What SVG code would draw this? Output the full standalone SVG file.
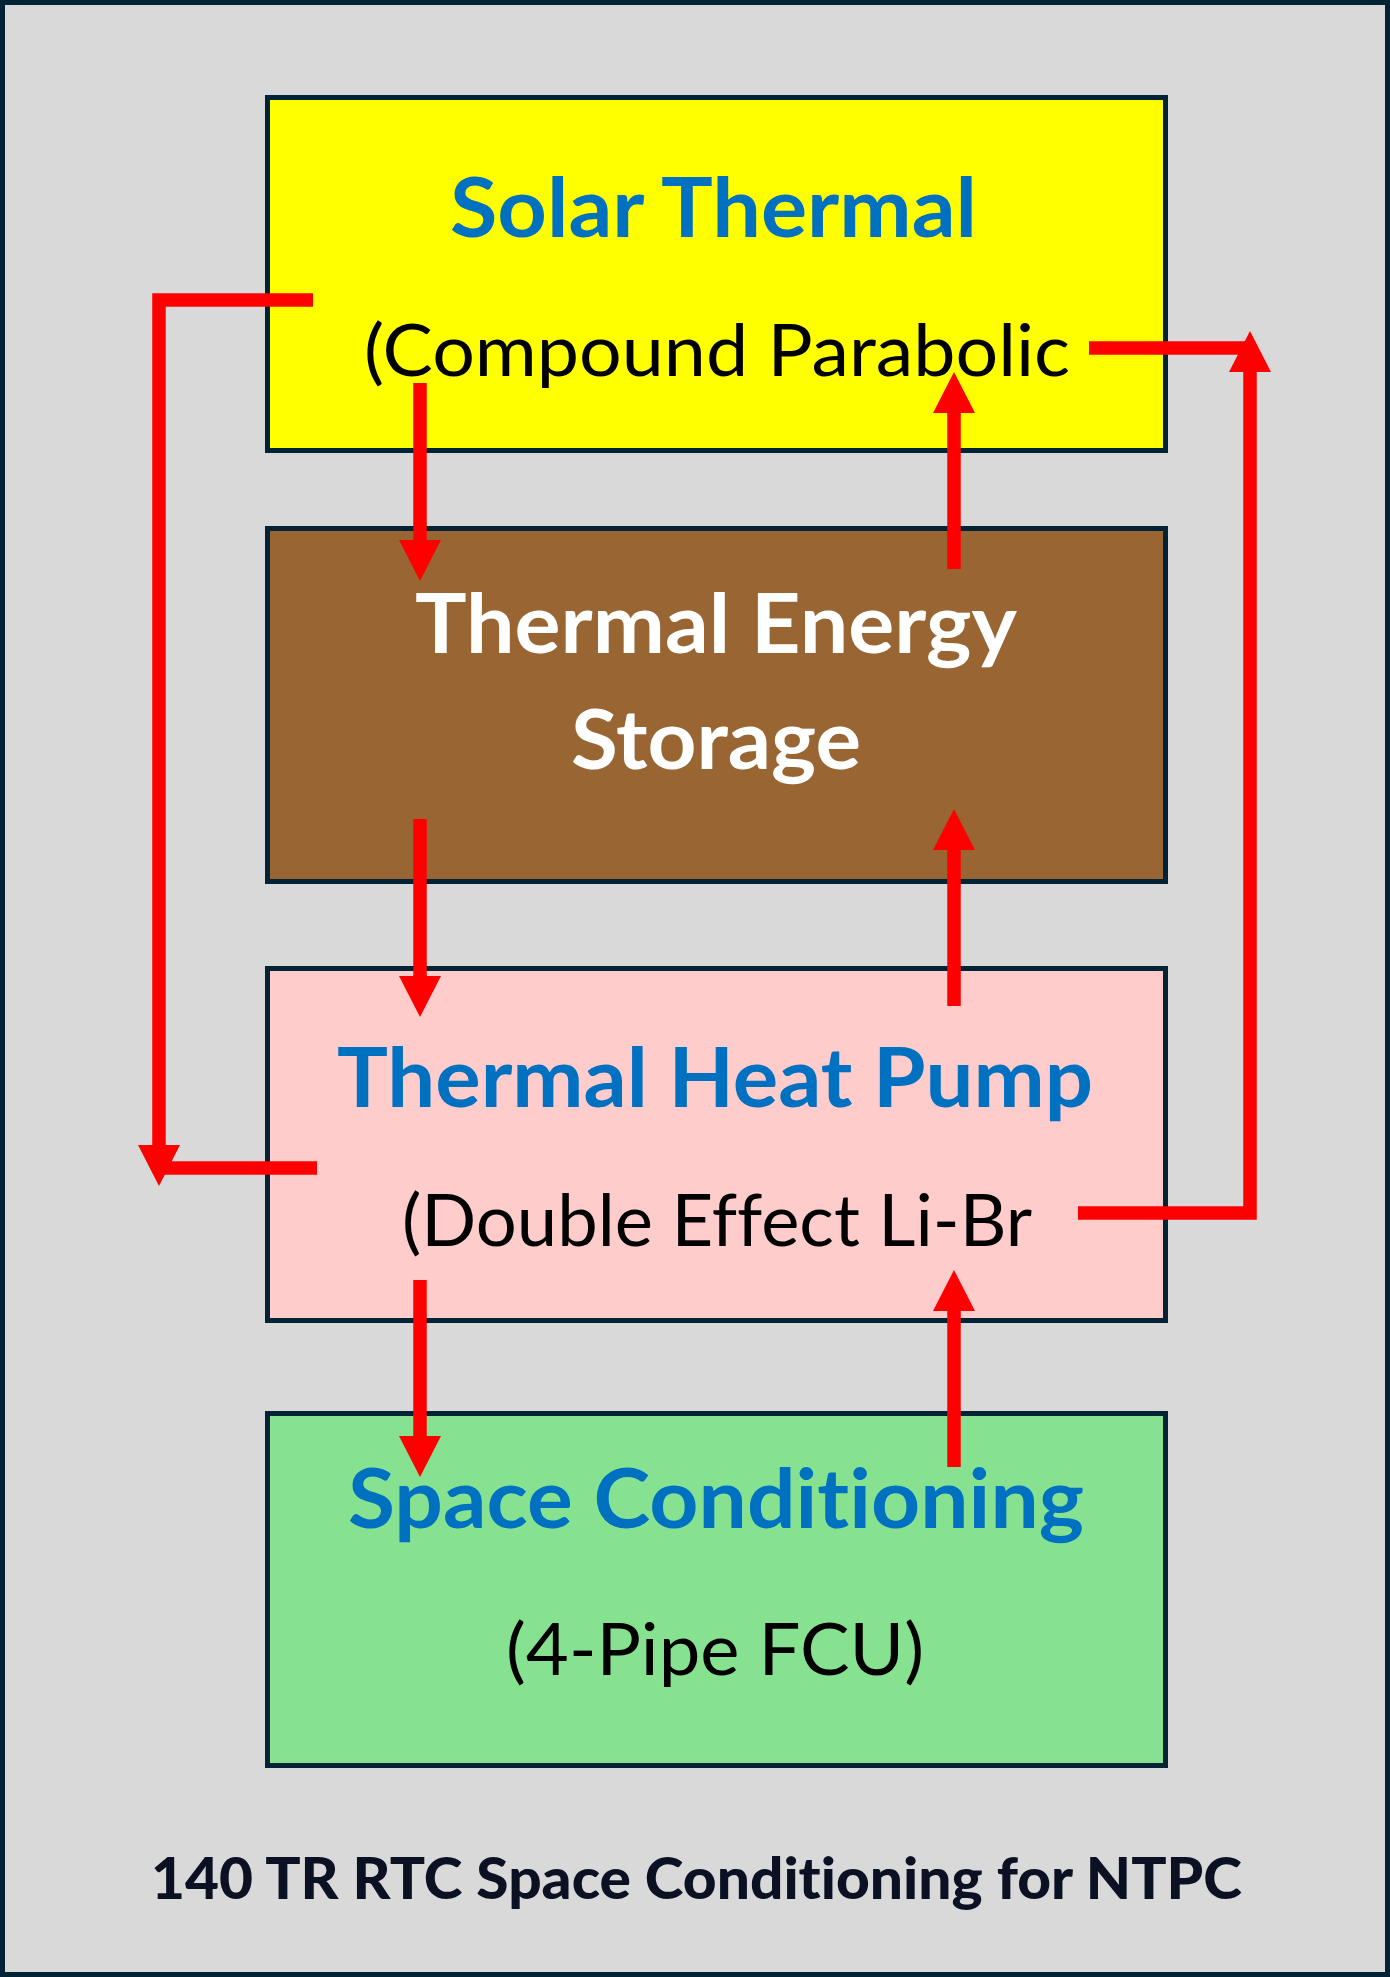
<svg xmlns="http://www.w3.org/2000/svg" width="1390" height="1977" viewBox="0 0 1390 1977">
  <style>
    text { font-variant-ligatures: none; font-feature-settings: "liga" 0, "clig" 0; }
    .box { stroke: #022235; stroke-width: 5; }
    .title { font-family: Lato, "Liberation Sans", sans-serif; font-weight: 700; font-size: 82px; fill: #0070C0; }
    .sub { font-family: Lato, "Liberation Sans", sans-serif; font-weight: 400; font-size: 72px; fill: #000000; }
    .white { fill: #FFFFFF; }
    .foot { font-family: Lato, "Liberation Sans", sans-serif; font-weight: 900; font-size: 58px; fill: #0B1122; }
    .conn { fill: none; stroke: #FF0000; stroke-width: 13.5; stroke-linejoin: miter; stroke-linecap: butt; }
  </style>
  <defs>
    <marker id="ah" markerUnits="userSpaceOnUse" markerWidth="41" markerHeight="42" viewBox="0 -21 41 42" refX="0" refY="0" orient="auto">
      <path d="M0,-21 L41,0 L0,21 Z" fill="#FF0000"/>
    </marker>
  </defs>
  <rect id="frame" x="2.5" y="2.5" width="1385" height="1972" fill="#D9D9D9" stroke="#022235" stroke-width="5"/>

  <g id="solar-thermal">
    <rect class="box" x="267.5" y="97.5" width="898" height="353" fill="#FFFF00"/>
    <text class="title" x="450" y="237" textLength="527" lengthAdjust="spacingAndGlyphs">Solar Thermal</text>
    <text class="sub" x="364" y="376" textLength="706" lengthAdjust="spacingAndGlyphs">(Compound Parabolic</text>
  </g>

  <g id="thermal-energy-storage">
    <rect class="box" x="267.5" y="528.5" width="898" height="353" fill="#996633"/>
    <text class="title white" x="415" y="653" textLength="602" lengthAdjust="spacingAndGlyphs">Thermal Energy</text>
    <text class="title white" x="571" y="769" textLength="290" lengthAdjust="spacingAndGlyphs">Storage</text>
  </g>

  <g id="thermal-heat-pump">
    <rect class="box" x="267.5" y="968.5" width="898" height="352" fill="#FFCCCC"/>
    <text class="title" x="337" y="1107" textLength="756" lengthAdjust="spacingAndGlyphs">Thermal Heat Pump</text>
    <text class="sub" x="402" y="1246" textLength="630" lengthAdjust="spacingAndGlyphs">(Double Effect Li-Br</text>
  </g>

  <g id="space-conditioning">
    <rect class="box" x="267.5" y="1413.5" width="898" height="352" fill="#86E291"/>
    <text class="title" x="348" y="1528" textLength="736" lengthAdjust="spacingAndGlyphs">Space Conditioning</text>
    <text class="sub" x="506" y="1675" textLength="418" lengthAdjust="spacingAndGlyphs">(4-Pipe FCU)</text>
  </g>

  <g id="connectors">
    <path class="conn" d="M313,300 H159 V1145" marker-end="url(#ah)"/>
    <path class="conn" d="M317,1168 H159"/>
    <path class="conn" d="M420,383 V540" marker-end="url(#ah)"/>
    <path class="conn" d="M420,819 V976" marker-end="url(#ah)"/>
    <path class="conn" d="M420,1280 V1436" marker-end="url(#ah)"/>
    <path class="conn" d="M954,1467 V1311" marker-end="url(#ah)"/>
    <path class="conn" d="M954,1006 V850" marker-end="url(#ah)"/>
    <path class="conn" d="M954,569 V413" marker-end="url(#ah)"/>
    <path class="conn" d="M1078,1213 H1250 V372" marker-end="url(#ah)"/>
    <path class="conn" d="M1089,348 H1250"/>
  </g>

  <text id="footer" class="foot" x="151" y="1899" textLength="1091" lengthAdjust="spacingAndGlyphs">140 TR RTC Space Conditioning for NTPC</text>
</svg>
